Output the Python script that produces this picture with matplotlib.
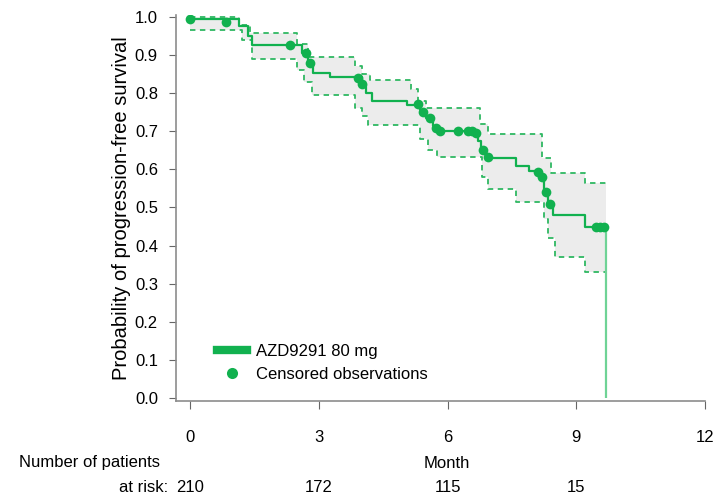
import matplotlib
matplotlib.use('Agg')
import matplotlib.pyplot as plt
from matplotlib.lines import Line2D
from matplotlib.transforms import blended_transform_factory
import numpy as np

plt.rcParams['font.family'] = ['Liberation Sans Narrow', 'Liberation Sans', 'DejaVu Sans']

# ---- Kaplan-Meier estimate (step times, survival after the step) ----
km_t = [0, 1.15, 1.35, 1.45, 2.6, 2.75, 2.87, 3.25, 4.0, 4.1, 4.25, 5.05, 5.35, 5.5,
        5.65, 5.78, 5.9, 6.7, 6.78, 6.9, 7.6, 7.9, 8.15, 8.25, 8.35, 8.45, 9.2]
km_s = [0.995, 0.975, 0.95, 0.927, 0.906, 0.879, 0.853, 0.843, 0.825, 0.80, 0.78, 0.77,
        0.755, 0.735, 0.715, 0.703, 0.70, 0.675, 0.651, 0.63, 0.61, 0.595, 0.58, 0.54,
        0.51, 0.48, 0.449]
km_end = 9.7

# ---- confidence band (step functions) ----
upper_t = [0, 1.15, 1.4, 2.5, 2.75, 3.85, 4.0, 4.2, 5.15, 5.3, 5.5, 6.75, 6.95, 8.2, 8.4, 9.2]
upper_s = [1.0, 0.98, 0.958, 0.93, 0.895, 0.87, 0.85, 0.835, 0.81, 0.78, 0.76, 0.72,
           0.693, 0.63, 0.59, 0.565]
lower_t = [0, 1.2, 1.45, 2.5, 2.65, 2.85, 3.85, 4.0, 4.15, 5.35, 5.55, 5.75, 6.8, 6.95,
           7.6, 8.25, 8.35, 8.5, 9.2]
lower_s = [0.966, 0.94, 0.89, 0.86, 0.83, 0.795, 0.76, 0.74, 0.717, 0.68, 0.65, 0.633,
           0.58, 0.548, 0.514, 0.47, 0.42, 0.37, 0.33]

# ---- censored observations ----
censor_t = [0, 0.84, 2.33, 2.70, 2.80, 3.92, 4.01, 5.31, 5.43, 5.59, 5.73, 5.83, 6.25,
            6.48, 6.57, 6.67, 6.83, 6.95, 8.11, 8.21, 8.30, 8.39, 9.46, 9.56, 9.65]
censor_s = [0.995, 0.987, 0.927, 0.906, 0.879, 0.84, 0.824, 0.772, 0.751, 0.735, 0.709,
            0.701, 0.701, 0.701, 0.701, 0.696, 0.651, 0.633, 0.593, 0.580, 0.541, 0.509,
            0.449, 0.449, 0.449]

# ---- numbers at risk ----
risk_t = [0, 3, 6, 9]
risk_n = [210, 172, 115, 15]

green = '#11b14f'
light_green = '#6fd396'
dash_green = '#2fb862'

fig = plt.figure(figsize=(7.18, 4.99), dpi=100)
ax = fig.add_axes([176 / 718, 1 - 401 / 499, (705 - 176) / 718, (401 - 15) / 499])


def step_eval(ts, ss, x):
    idx = np.searchsorted(ts, x, side='right') - 1
    return np.asarray(ss)[idx]


# band
grid = np.unique(np.concatenate([upper_t, lower_t, [km_end]]))
up = step_eval(upper_t, upper_s, grid)
lo = step_eval(lower_t, lower_s, grid)
ax.fill_between(grid, lo, up, step='post', color='#ececec', lw=0)
ax.step(grid, up, where='post', color=dash_green, lw=1.3, dashes=(3, 2.5))
ax.step(grid, lo, where='post', color=dash_green, lw=1.3, dashes=(3, 2.5))

# KM curve
ax.step(km_t + [km_end], km_s + [km_s[-1]], where='post', color=green, lw=1.6, zorder=3)
ax.vlines(km_end, 0, km_s[-1], color=light_green, lw=1.6, zorder=3)
ax.plot(censor_t, censor_s, 'o', color=green, ms=7, mec='none', zorder=4)

ax.set_xlim(-0.33, 12.0)
ax.set_ylim(-0.008, 1.005)
ax.set_xticks([0, 3, 6, 9, 12])
ax.set_yticks(np.arange(0, 1.01, 0.1))
ax.set_yticklabels([f'{v:.1f}' for v in np.arange(0, 1.01, 0.1)])

for s in ['top', 'right']:
    ax.spines[s].set_visible(False)
for s in ['left', 'bottom']:
    ax.spines[s].set_color('#8c8c8c')
    ax.spines[s].set_linewidth(1.2)
ax.tick_params(axis='y', length=5, color='#666666', labelsize=12, pad=8)
ax.tick_params(axis='x', length=6, color='#666666', labelsize=12, pad=15)

ax.set_ylabel('Probability of progression-free survival', fontsize=14.5, labelpad=3)

trans = blended_transform_factory(ax.transData, fig.transFigure)
fig.text(447 / 718, 1 - 463 / 499, 'Month', ha='center', va='center', fontsize=12)
fig.text(160 / 718, 1 - 463 / 499, 'Number of patients', ha='right', va='center', fontsize=12)
fig.text(168 / 718, 1 - 488 / 499, 'at risk:', ha='right', va='center', fontsize=12)
for t, n in zip(risk_t, risk_n):
    ax.text(t, 1 - 488 / 499, str(n), transform=trans, ha='center', va='center', fontsize=12)

handles = [Line2D([], [], color=green, lw=6),
           Line2D([], [], color=green, marker='o', ls='none', ms=8, mec='none')]
ax.legend(handles, ['AZD9291 80 mg', 'Censored observations'], loc='lower left',
          bbox_to_anchor=(0.05, 0.01), frameon=False, fontsize=12, handlelength=1.8,
          handletextpad=0.5, labelspacing=0.5)

fig.savefig('out.png', dpi=100)
